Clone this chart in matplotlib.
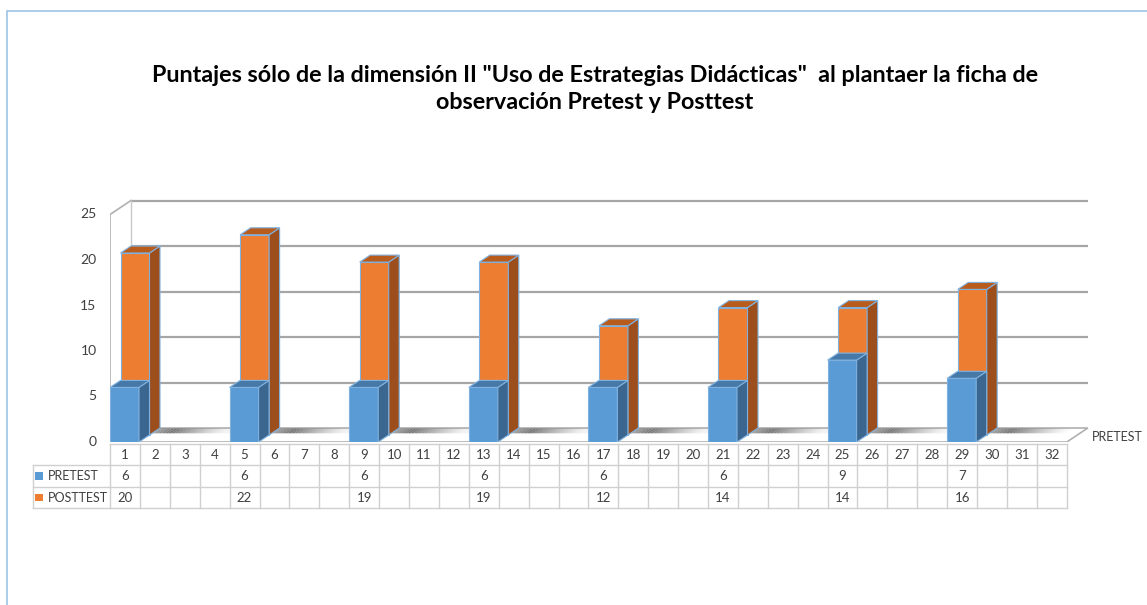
import matplotlib
matplotlib.use("Agg")
import matplotlib.pyplot as plt
from matplotlib.patches import Polygon, Rectangle

# data
categories = [str(i) for i in range(1, 33)]
bar_cats = [1, 5, 9, 13, 17, 21, 25, 29]
pretest = [6, 6, 6, 6, 6, 6, 9, 7]
posttest = [20, 22, 19, 19, 12, 14, 14, 16]
series_names = ["PRETEST", "POSTTEST"]
yticks = [0, 5, 10, 15, 20, 25]

title = ('Puntajes sólo de la dimensión II "Uso de Estrategias Didácticas"  al plantaer la ficha de\n'
         'observación Pretest y Posttest')

plt.rcParams['font.family'] = ['Lato', 'DejaVu Sans']

W, H = 1147, 605
fig = plt.figure(figsize=(W / 100, H / 100), dpi=100)

# one category = ~29.9 px, one value unit = ~9.1 px
CW, VU = 29.9, 9.1
ax = fig.add_axes([110 / W, 163 / H, 33.5 * CW / W, 27 * VU / H])
ax.set_xlim(0, 33.5)
ax.set_ylim(0, 27)
ax.axis("off")

DX, DY = 21 / CW, 14 / VU     # full depth offset in data units
n = len(categories)
grid_c = "#a6a6a6"
txt_c = "#404040"

# floor
ax.add_patch(Polygon([(0, 0), (n, 0), (n + DX, DY), (DX, DY)], closed=True,
                     facecolor="white", edgecolor="#b0b0b0", lw=1.2, zorder=1))
# back wall gridlines
for v in yticks[1:]:
    ax.plot([DX, n + DX], [v + DY, v + DY], color=grid_c, lw=1.6, zorder=1,
            solid_capstyle="butt")
# left wall edges
ax.plot([0, 0], [0, 25], color="#b0b0b0", lw=1.2, zorder=1)
ax.plot([0, DX], [25, 25 + DY], color="#b0b0b0", lw=1.2, zorder=1)
ax.plot([DX, DX], [DY, 25 + DY], color="#c8c8c8", lw=1.0, zorder=1)

for v in yticks:
    ax.text(-0.45, v, str(v), ha="right", va="center", fontsize=10, color=txt_c)

ax.text(n + DX + 0.15, 0.5, "PRETEST", ha="left", va="center", fontsize=9, color=txt_c)


def shadow(x0, w):
    # soft shadow strip along the back of the floor
    steps = 40
    xa, xb = x0 - 0.8, x0 + w + 2.6
    peak = x0 + w + 0.6
    d0, d1 = 0.62, 0.97
    for k in range(steps):
        xs = xa + (xb - xa) * k / steps
        xe = xa + (xb - xa) * (k + 1) / steps
        xm = (xs + xe) / 2
        if xm < peak:
            a = max(0.0, (xm - xa) / (peak - xa))
        else:
            a = max(0.0, 1 - (xm - peak) / (xb - peak))
        a = 0.8 * a ** 1.3
        ax.add_patch(Polygon([(xs + d0 * DX, d0 * DY), (xe + d0 * DX, d0 * DY),
                              (xe + d1 * DX, d1 * DY), (xs + d1 * DX, d1 * DY)],
                             closed=True, facecolor="#555555", edgecolor="none",
                             alpha=a, zorder=1.5))


def box(x0, h, d0, d1, front, side, top, z):
    w = 0.97
    ox0, oy0 = d0 * DX, d0 * DY
    ox1, oy1 = d1 * DX, d1 * DY
    ec = "#7fb2e0"
    ax.add_patch(Polygon([(x0 + ox0, oy0), (x0 + w + ox0, oy0), (x0 + w + ox0, h + oy0),
                          (x0 + ox0, h + oy0)], closed=True, facecolor=front,
                         edgecolor=ec, lw=0.8, zorder=z))
    ax.add_patch(Polygon([(x0 + w + ox0, oy0), (x0 + w + ox1, oy1), (x0 + w + ox1, h + oy1),
                          (x0 + w + ox0, h + oy0)], closed=True, facecolor=side,
                         edgecolor=ec, lw=0.8, zorder=z))
    ax.add_patch(Polygon([(x0 + ox0, h + oy0), (x0 + w + ox0, h + oy0),
                          (x0 + w + ox1, h + oy1), (x0 + ox1, h + oy1)], closed=True,
                         facecolor=top, edgecolor=ec, lw=0.8, zorder=z))


for c, pre, post in zip(bar_cats, pretest, posttest):
    x0 = c - 1
    shadow(x0, 0.97)
    box(x0, post, 0.5, 1.0, "#ed7d31", "#9c4f1d", "#b85c1e", 3)
    box(x0, pre, 0.0, 0.5, "#5b9bd5", "#3a6690", "#4679a8", 5)

# data table under the chart
tb_c = "#d0d0d0"
row_h = 21.5 / VU
top_y = -0.2
rows_y = [top_y - row_h * i for i in range(4)]
leg_x = -77 / CW
for i in range(n + 1):
    ax.plot([i, i], [top_y, rows_y[3]], color=tb_c, lw=1, clip_on=False, zorder=2)
ax.plot([leg_x, leg_x], [rows_y[1], rows_y[3]], color=tb_c, lw=1, clip_on=False)
ax.plot([0, n], [top_y, top_y], color=tb_c, lw=1, clip_on=False)
for y in rows_y[1:]:
    ax.plot([leg_x, n], [y, y], color=tb_c, lw=1, clip_on=False)

for i, lab in enumerate(categories):
    ax.text(i + 0.5, (rows_y[0] + rows_y[1]) / 2, lab, ha="center", va="center",
            fontsize=9.5, color=txt_c, clip_on=False)

colors = ["#5b9bd5", "#ed7d31"]
for r, (name, vals) in enumerate(zip(series_names, [pretest, posttest])):
    yc = (rows_y[r + 1] + rows_y[r + 2]) / 2
    ax.add_patch(Rectangle((leg_x + 0.08, yc - 0.4), 0.24, 0.8, facecolor=colors[r],
                           edgecolor="none", clip_on=False))
    ax.text(leg_x + 0.5, yc, name, ha="left", va="center", fontsize=9,
            color=txt_c, clip_on=False)
    for c, v in zip(bar_cats, vals):
        ax.text(c - 0.5, yc, str(v), ha="center", va="center", fontsize=9.5,
                color=txt_c, clip_on=False)

fig.text(595 / W, 1 - 89 / H, title, ha="center", va="center", fontsize=16.8,
         fontweight="bold", color="black", linespacing=1.3)

# chart frame
fig.add_artist(Rectangle((7 / W, -0.1), 2, (H - 11) / H + 0.1, transform=fig.transFigure,
                         fill=False, edgecolor="#9dc3e6", lw=1.2))

fig.savefig("out.png", dpi=100)
